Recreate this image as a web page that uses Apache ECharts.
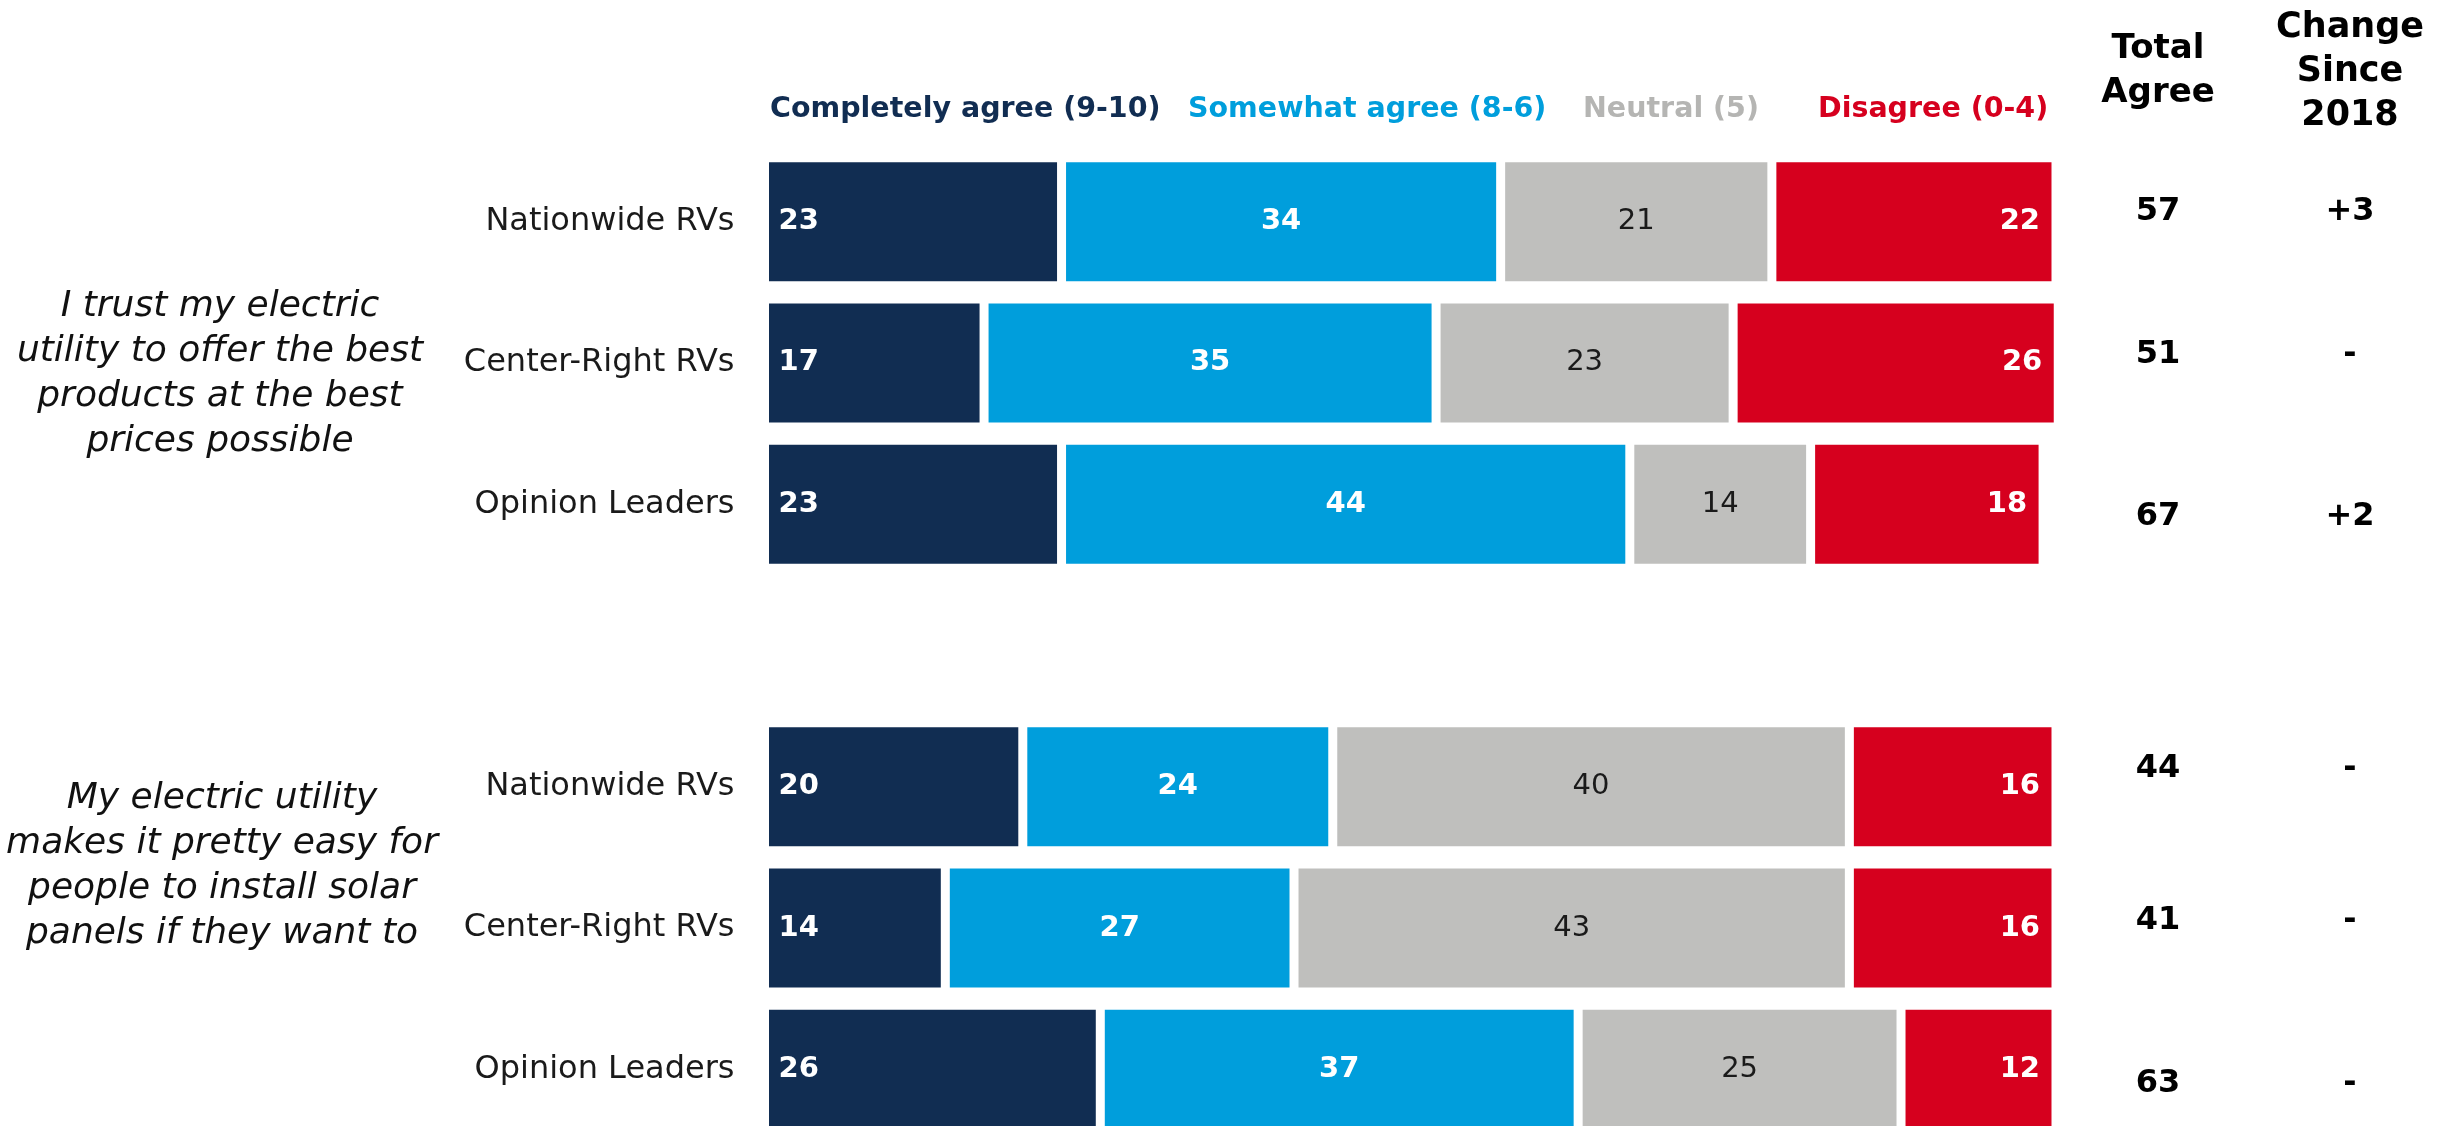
<!DOCTYPE html>
<html>
<head>
<meta charset="utf-8">
<title>Electric utility trust</title>
<script src="https://cdn.jsdelivr.net/npm/echarts@6/dist/echarts.min.js"></script>
<style>
  html, body { margin: 0; padding: 0; background: #fff; }
  #chart { width: 2445px; height: 1126px; }
</style>
</head>
<body>
<div id="chart"></div>
<script>
// Survey groups, one block of bars per statement; '' marks the spacer row between blocks
const rowKeys = ['a1', 'a2', 'a3', 'gap', 'b1', 'b2', 'b3'];
const rowNames = ['Nationwide RVs', 'Center-Right RVs', 'Opinion Leaders', '',
                  'Nationwide RVs', 'Center-Right RVs', 'Opinion Leaders'];

const statements = [
  'I trust my electric\nutility to offer the best\nproducts at the best\nprices possible',
  'My electric utility\nmakes it pretty easy for\npeople to install solar\npanels if they want to'
];

const seriesNames = ['Completely agree (9-10)', 'Somewhat agree (8-6)', 'Neutral (5)', 'Disagree (0-4)'];

const completelyAgree = [23, 17, 23, null, 20, 14, 26];
const somewhatAgree   = [34, 35, 44, null, 24, 27, 37];
const neutral         = [21, 23, 14, null, 40, 43, 25];
const disagree        = [22, 26, 18, null, 16, 16, 12];

const totalAgree      = [57, 51, 67, null, 44, 41, 63];
const changeSince2018 = ['+3', '-', '+2', null, '-', '-', '-'];

// ---- styling / layout ----
const COLORS = ['#112D52', '#009EDC', '#BFBFBD', '#D6001E'];
const LEGEND_COLORS = ['#112D52', '#009EDC', '#B5B5B3', '#D6001E'];
const FONT = '"DejaVu Sans", "Noto Sans", sans-serif';
const GRID_TOP = 151, GRID_H = 989;
// small vertical nudges of the summary numbers relative to each bar row
const summaryNudge = [-10, -8, 12, 0, -18, -7, 14];

const chart = echarts.init(document.getElementById('chart'), null, { renderer: 'canvas' });

const labelCfg = [
  { position: 'insideLeft', distance: 14, color: '#fff', fontWeight: 'bold' },
  { position: 'inside', color: '#fff', fontWeight: 'bold' },
  { position: 'inside', color: '#1a1a1a', fontWeight: 'normal' },
  { position: 'insideRight', distance: 16, color: '#fff', fontWeight: 'bold' }
];

const barSeries = [completelyAgree, somewhatAgree, neutral, disagree].map((vals, k) => ({
  name: seriesNames[k],
  type: 'bar',
  stack: 'total',
  xAxisIndex: 0,
  yAxisIndex: 0,
  barWidth: 128,
  data: vals,
  itemStyle: { color: COLORS[k], borderColor: '#ffffff', borderWidth: 4.5 },
  label: Object.assign({
    show: true,
    fontFamily: FONT,
    fontSize: 29,
    textBorderColor: 'transparent',
    textBorderWidth: 0,
    formatter: p => (p.value == null ? '' : String(p.value))
  }, labelCfg[k]),
  emphasis: { disabled: true }
}));

// text-only column (Total Agree / Change Since 2018) placed on its own row axis
function summarySeries(values, xPos) {
  return {
    type: 'scatter',
    xAxisIndex: 1,
    yAxisIndex: 1,
    symbolSize: 1,
    itemStyle: { color: '#ffffff', opacity: 1 },
    silent: true,
    label: {
      show: true,
      position: 'inside',
      opacity: 1,
      fontFamily: FONT,
      fontWeight: 'bold',
      fontSize: 32,
      color: '#000000',
      textBorderColor: 'transparent',
      textBorderWidth: 0,
      formatter: p => p.data.text
    },
    data: values.map((v, i) => (v == null ? null : {
        value: [xPos, rowKeys[i]],
        text: String(v),
        label: { offset: [0, summaryNudge[i]] }
      }))
      .filter(d => d !== null)
  };
}

const legends = seriesNames.map((name, k) => ({
  data: [{ name: name, textStyle: { color: LEGEND_COLORS[k] } }],
  left: [759, 1177, 1572, 1807][k],
  top: 87,
  itemWidth: 0,
  itemHeight: 0,
  selectedMode: false,
  textStyle: { fontFamily: FONT, fontWeight: 'bold', fontSize: 28.5, lineHeight: 36 }
}));

const option = {
  animation: false,
  backgroundColor: '#ffffff',
  legend: legends,
  grid: [
    { left: 764.5, width: 1291.5, top: GRID_TOP, height: GRID_H, containLabel: false, outerBoundsMode: 'none' },
    { left: 2062, width: 384, top: GRID_TOP, height: GRID_H, containLabel: false, outerBoundsMode: 'none' }
  ],
  xAxis: [
    { type: 'value', gridIndex: 0, min: 0, max: 100, show: false },
    { type: 'value', gridIndex: 1, min: 0, max: 1, show: false }
  ],
  yAxis: [
    {
      type: 'category', gridIndex: 0, data: rowKeys, inverse: true,
      axisLine: { show: false }, axisTick: { show: false }, splitLine: { show: false },
      axisLabel: {
        margin: 30,
        fontFamily: FONT,
        fontSize: 32,
        color: '#1a1a1a',
        formatter: (v, i) => rowNames[i]
      }
    },
    { type: 'category', gridIndex: 1, data: rowKeys, inverse: true, show: false }
  ],
  graphic: [
    {
      type: 'text', x: 220, y: 374, silent: true,
      style: {
        text: statements[0], textAlign: 'center', textVerticalAlign: 'middle',
        font: 'italic 36px ' + FONT, lineHeight: 45, fill: '#111'
      }
    },
    {
      type: 'text', x: 222, y: 866, silent: true,
      style: {
        text: statements[1], textAlign: 'center', textVerticalAlign: 'middle',
        font: 'italic 36px ' + FONT, lineHeight: 45, fill: '#111'
      }
    },
    {
      type: 'text', x: 2158, y: 71, silent: true,
      style: {
        text: 'Total\nAgree', textAlign: 'center', textVerticalAlign: 'middle',
        font: 'bold 34px ' + FONT, lineHeight: 44, fill: '#000'
      }
    },
    {
      type: 'text', x: 2350, y: 72, silent: true,
      style: {
        text: 'Change\nSince\n2018', textAlign: 'center', textVerticalAlign: 'middle',
        font: 'bold 35px ' + FONT, lineHeight: 44, fill: '#000'
      }
    }
  ],
  series: barSeries.concat([
    summarySeries(totalAgree, 0.25),
    summarySeries(changeSince2018, 0.75)
  ])
};

chart.setOption(option);
</script>
</body>
</html>
